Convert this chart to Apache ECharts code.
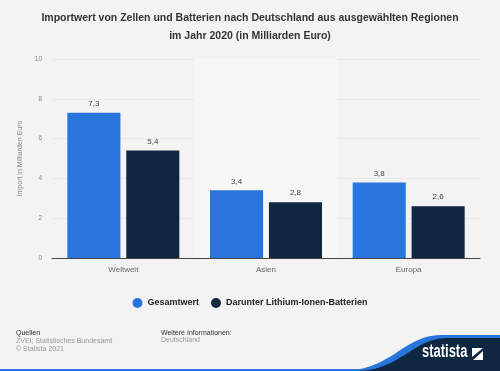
<!DOCTYPE html>
<html><head><meta charset="utf-8">
<script src="https://cdn.jsdelivr.net/npm/echarts@6/dist/echarts.min.js"></script>
<style>html,body{margin:0;padding:0;background:#f3f3f3}#c{width:500px;height:371px}</style>
</head><body><div id="c"></div>
<script>
const categories = ['Weltweit', 'Asien', 'Europa'];
const gesamtwert = [7.3, 3.4, 3.8];
const lithium = [5.4, 2.8, 2.6];
const seriesNames = ['Gesamtwert', 'Darunter Lithium-Ionen-Batterien'];
const yTicks = [0, 2, 4, 6, 8, 10];

function bez(p0, p1, p2, p3, n) {
  const pts = [];
  for (let i = 0; i <= n; i++) {
    const t = i / n, u = 1 - t;
    pts.push([
      u*u*u*p0[0] + 3*u*u*t*p1[0] + 3*u*t*t*p2[0] + t*t*t*p3[0],
      u*u*u*p0[1] + 3*u*u*t*p1[1] + 3*u*t*t*p2[1] + t*t*t*p3[1]
    ]);
  }
  return pts;
}
const wave1 = bez([340, 371], [392, 371], [402, 336], [440, 335], 30).concat([[500, 335], [500, 371]]);
const wave2 = bez([355, 371], [400, 371], [412, 339], [446, 338], 30).concat([[500, 338], [500, 371]]);

const chart = echarts.init(document.getElementById('c'), null, {renderer: 'canvas'});
const fmt = p => String(p.value).replace('.', ',');
const font = 'Arial, "Liberation Sans", sans-serif';
chart.setOption({
  backgroundColor: '#f3f3f3',
  animation: false,
  title: {
    text: 'Importwert von Zellen und Batterien nach Deutschland aus ausgewählten Regionen\nim Jahr 2020 (in Milliarden Euro)',
    left: 'center', top: 4,
    textStyle: {fontFamily: font, fontSize: 10.5, fontWeight: 'bold', color: '#333', lineHeight: 18}
  },
  legend: {
    data: seriesNames, bottom: 58, left: 'center', icon: 'circle', itemWidth: 10, itemHeight: 10, itemGap: 12,
    textStyle: {fontFamily: font, fontSize: 9, fontWeight: 'bold', color: '#222'}
  },
  grid: {left: 52, right: 20, top: 59, bottom: 113},
  xAxis: {
    type: 'category', data: categories,
    axisLine: {lineStyle: {color: '#444', width: 1}},
    axisTick: {show: false},
    axisLabel: {fontFamily: font, fontSize: 8, color: '#666', margin: 8},
    splitArea: {show: true, areaStyle: {color: ['rgba(0,0,0,0)', '#f7f7f7']}}
  },
  yAxis: {
    type: 'value', min: yTicks[0], max: yTicks[yTicks.length - 1], interval: 2,
    name: 'Import in Milliarden Euro', nameLocation: 'middle', nameGap: 22,
    nameTextStyle: {fontFamily: font, fontSize: 7, color: '#888'},
    axisLabel: {fontFamily: font, fontSize: 6.5, color: '#888', margin: 10},
    splitLine: {lineStyle: {color: '#e9e9e9', width: 1}},
    axisLine: {show: false}, axisTick: {show: false}
  },
  series: [
    {name: seriesNames[0], type: 'bar', data: gesamtwert, barGap: '11%', barCategoryGap: '21.5%',
     itemStyle: {color: '#2876dd'},
     label: {show: true, position: 'top', distance: 5, formatter: fmt, fontFamily: font, fontSize: 8, color: '#444'}},
    {name: seriesNames[1], type: 'bar', data: lithium,
     itemStyle: {color: '#0f2741'},
     label: {show: true, position: 'top', distance: 5, formatter: fmt, fontFamily: font, fontSize: 8, color: '#444'}}
  ],
  graphic: [
    {type: 'text', x: 16, y: 330, style: {text: 'Quellen', fontFamily: font, fontSize: 7, fill: '#333'}},
    {type: 'text', x: 16, y: 337, style: {text: 'ZVEI; Statistisches Bundesamt\n© Statista 2021', fontFamily: font, fontSize: 7, lineHeight: 8, fill: '#999'}},
    {type: 'text', x: 161, y: 330, style: {text: 'Weitere Informationen:', fontFamily: font, fontSize: 7, fill: '#333'}},
    {type: 'text', x: 161, y: 337, style: {text: 'Deutschland', fontFamily: font, fontSize: 7, fill: '#999'}},
    {type: 'rect', shape: {x: 0, y: 369, width: 500, height: 2}, style: {fill: '#2876dd'}},
    {type: 'polygon', shape: {points: wave1}, style: {fill: '#2876dd'}},
    {type: 'polygon', shape: {points: wave2}, style: {fill: '#0f2741'}},
    {type: 'text', x: 422, y: 343, scaleX: 0.72, style: {text: 'statista', fontFamily: '"Liberation Sans", Arial, sans-serif', fontSize: 18, fontWeight: 'bold', fill: '#fff'}},
    {type: 'polygon', shape: {points: [[472, 348], [483, 348], [472, 357]]}, style: {fill: '#fff'}},
    {type: 'polygon', shape: {points: [[483, 351], [483, 360], [473, 360]]}, style: {fill: '#fff'}}
  ]
});
</script></body></html>
